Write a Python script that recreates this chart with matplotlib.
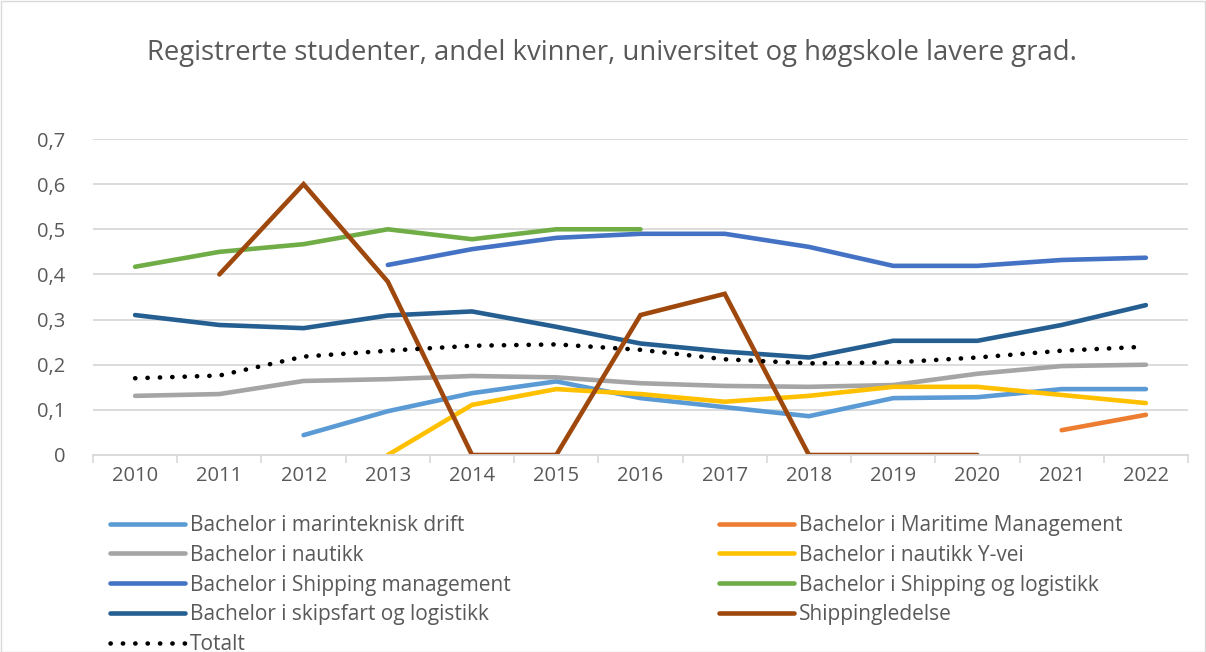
import matplotlib
matplotlib.use("Agg")
import matplotlib.pyplot as plt
import numpy as np

years = [2010, 2011, 2012, 2013, 2014, 2015, 2016, 2017, 2018, 2019, 2020, 2021, 2022]
nan = np.nan
marinteknisk = [nan, nan, 0.044, 0.097, 0.137, 0.163, 0.126, 0.106, 0.086, 0.126, 0.128, 0.146, 0.146]
maritime_mgmt = [nan, nan, nan, nan, nan, nan, nan, nan, nan, nan, nan, 0.055, 0.089]
nautikk = [0.131, 0.135, 0.164, 0.168, 0.175, 0.172, 0.159, 0.153, 0.151, 0.155, 0.180, 0.197, 0.200]
nautikk_yvei = [nan, nan, nan, 0.0, 0.111, 0.146, 0.135, 0.118, 0.131, 0.151, 0.151, 0.133, 0.115]
shipping_mgmt = [nan, nan, nan, 0.421, 0.456, 0.481, 0.490, 0.490, 0.461, 0.419, 0.419, 0.432, 0.437]
shipping_log = [0.417, 0.450, 0.467, 0.500, 0.478, 0.500, 0.500, nan, nan, nan, nan, nan, nan]
skipsfart_log = [0.310, 0.288, 0.281, 0.309, 0.318, 0.284, 0.247, 0.229, 0.216, 0.253, 0.253, 0.288, 0.332]
shippingledelse = [nan, 0.400, 0.600, 0.384, 0.0, 0.0, 0.310, 0.357, 0.0, 0.0, 0.0, nan, nan]
totalt = [0.170, 0.176, 0.218, 0.231, 0.242, 0.245, 0.233, 0.212, 0.203, 0.205, 0.216, 0.231, 0.240]

title = "Registrerte studenter, andel kvinner, universitet og høgskole lavere grad."
yticks = [0, 0.1, 0.2, 0.3, 0.4, 0.5, 0.6, 0.7]
ytick_labels = ["0", "0,1", "0,2", "0,3", "0,4", "0,5", "0,6", "0,7"]

series = [
    ("Bachelor i marinteknisk drift", marinteknisk, "#5B9BD5"),
    ("Bachelor i Maritime Management", maritime_mgmt, "#ED7D31"),
    ("Bachelor i nautikk", nautikk, "#A5A5A5"),
    ("Bachelor i nautikk Y-vei", nautikk_yvei, "#FFC000"),
    ("Bachelor i Shipping management", shipping_mgmt, "#4472C4"),
    ("Bachelor i Shipping og logistikk", shipping_log, "#70AD47"),
    ("Bachelor i skipsfart og logistikk", skipsfart_log, "#255E91"),
    ("Shippingledelse", shippingledelse, "#9E480E"),
]

plt.rcParams['font.family'] = ['Open Sans', 'DejaVu Sans']
W, H = 1206, 652
fig = plt.figure(figsize=(W / 100, H / 100), dpi=100)
ax = fig.add_axes([93 / W, 1 - 455 / H, (1188 - 93) / W, (455 - 139) / H])

x = np.arange(len(years))
handles = {}
for name, vals, col in series:
    ln, = ax.plot(x, vals, color=col, lw=3.3, solid_capstyle='round', solid_joinstyle='miter', label=name)
    handles[name] = ln
tl, = ax.plot(x, totalt, color='black', lw=3.3, linestyle=(0, (0.05, 2.65)), dash_capstyle='round', label='Totalt')
handles['Totalt'] = tl

ax.set_xlim(-0.5, len(years) - 0.5)
ax.set_ylim(0, 0.7)
ax.set_yticks(yticks)
ax.set_yticklabels(ytick_labels)
ax.set_xticks(x)
ax.set_xticklabels([str(y) for y in years])
ax.set_xticks(np.arange(-0.5, len(years)), minor=True)
ax.tick_params(axis='x', which='major', length=0, pad=8, labelsize=14.5, labelcolor='#595959')
ax.tick_params(axis='x', which='minor', length=6, color='#D9D9D9', width=1.2)
ax.tick_params(axis='y', length=0, pad=20, labelsize=14.5, labelcolor='#595959')
for lab in ax.get_yticklabels():
    lab.set_horizontalalignment('right')
ax.grid(axis='y', color='#D9D9D9', lw=1.3)
ax.set_axisbelow(True)
for s in ['top', 'right', 'left']:
    ax.spines[s].set_visible(False)
ax.spines['bottom'].set_color('#D9D9D9')
ax.spines['bottom'].set_linewidth(1.3)

fig.text(612 / W, 1 - 53 / H, title, ha='center', va='center', fontsize=19.8, color='#595959')

order = ["Bachelor i marinteknisk drift", "Bachelor i nautikk", "Bachelor i Shipping management",
         "Bachelor i skipsfart og logistikk", "Totalt",
         "Bachelor i Maritime Management", "Bachelor i nautikk Y-vei", "Bachelor i Shipping og logistikk",
         "Shippingledelse"]
leg = fig.legend([handles[n] for n in order], order, ncol=2, loc='upper left',
                 bbox_to_anchor=(110 / W, 1 - 515 / H), frameon=False, fontsize=15,
                 handlelength=3.6, handletextpad=0.24, labelspacing=0.42, columnspacing=10.0,
                 borderaxespad=0, borderpad=0)
for t in leg.get_texts():
    t.set_color('#595959')

fig.patches.append(plt.Rectangle((0.5 / W, 0.5 / H), 1 - 1.5 / W, 1 - 1.5 / H, transform=fig.transFigure,
                                 fill=False, edgecolor='#D9D9D9', lw=1.0))
fig.savefig('out.png', dpi=100)
